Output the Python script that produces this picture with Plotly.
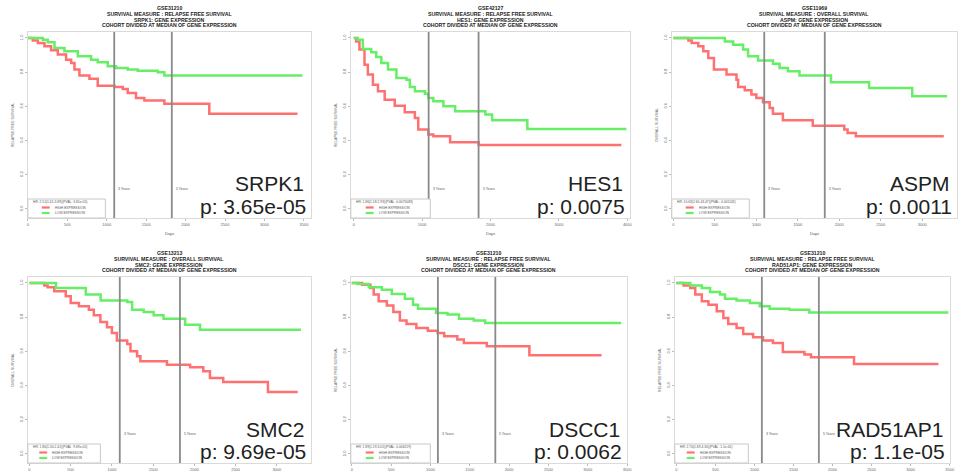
import plotly.graph_objects as go
from plotly.subplots import make_subplots

W, H = 966, 474

# ---- panel metadata -------------------------------------------------------
genes = ["SRPK1", "HES1", "ASPM", "SMC2", "DSCC1", "RAD51AP1"]
datasets = ["GSE31210", "GSE42127", "GSE11969", "GSE13213", "GSE31210", "GSE31210"]
measures = ["RELAPSE FREE SURVIVAL", "RELAPSE FREE SURVIVAL", "OVERALL SURVIVAL",
            "OVERALL SURVIVAL", "RELAPSE FREE SURVIVAL", "RELAPSE FREE SURVIVAL"]
p_values = ["3.65e-05", "0.0075", "0.0011", "9.69e-05", "0.0062", "1.1e-05"]
hr_labels = ["HR: 2.51(1.61-3.89)(PVAL: 3.65e-05)",
             "HR: 1.86(1.18-2.93)(PVAL: 0.0075083)",
             "HR: 10.63(2.60-43.47)(PVAL: 0.001143)",
             "HR: 1.80(1.34-2.41)(PVAL: 9.69e-05)",
             "HR: 1.89(1.19-3.01)(PVAL: 0.006219)",
             "HR: 2.70(1.69-4.30)(PVAL: 1.1e-05)"]
x_ticks = [list(range(0, 3501, 500)), list(range(0, 4001, 1000)), list(range(0, 3001, 500)),
           list(range(0, 3001, 500)), list(range(0, 3501, 500)), list(range(0, 3501, 500))]
y_ticks = [0.0, 0.2, 0.4, 0.6, 0.8, 1.0]
y_tick_text = ["0.0", "0.2", "0.4", "0.6", "0.8", "1.0"]
year_marks = [1095, 1825]
year_labels = ["3 Years", "5 Years"]

# ---- Kaplan-Meier step data (days, survival fraction) ---------------------
srpk1_high_t = [0, 63, 127, 211, 295, 380, 485, 549, 591, 654, 781, 886, 1097, 1203, 1266, 1371, 1477, 1730, 2300, 3418]
srpk1_high_s = [1.0, 0.986, 0.970, 0.951, 0.928, 0.903, 0.873, 0.854, 0.815, 0.780, 0.762, 0.721, 0.713, 0.702, 0.678, 0.649, 0.635, 0.616, 0.557, 0.557]
srpk1_low_t = [0, 190, 253, 338, 464, 633, 802, 886, 1013, 1118, 1266, 1393, 1646, 1730, 3481]
srpk1_low_s = [1.0, 0.990, 0.975, 0.942, 0.922, 0.893, 0.873, 0.858, 0.834, 0.825, 0.815, 0.809, 0.799, 0.780, 0.780]

hes1_high_t = [0, 34, 83, 157, 206, 280, 354, 452, 599, 746, 894, 943, 1090, 1164, 1409, 1827, 3913]
hes1_high_s = [1.0, 0.980, 0.932, 0.844, 0.786, 0.727, 0.688, 0.639, 0.604, 0.565, 0.532, 0.464, 0.435, 0.425, 0.390, 0.374, 0.374]
hes1_low_t = [0, 59, 133, 255, 329, 403, 501, 624, 771, 820, 894, 1041, 1090, 1164, 1311, 1483, 1925, 2023, 2538, 3987]
hes1_low_s = [1.0, 0.990, 0.936, 0.916, 0.889, 0.854, 0.815, 0.766, 0.756, 0.713, 0.688, 0.674, 0.649, 0.630, 0.600, 0.571, 0.552, 0.519, 0.468, 0.468]

aspm_high_t = [0, 180, 220, 300, 360, 420, 488, 640, 760, 780, 860, 940, 1000, 1080, 1160, 1200, 1320, 1680, 2060, 2100, 2200, 3260]
aspm_high_s = [1.0, 0.985, 0.971, 0.951, 0.922, 0.883, 0.815, 0.786, 0.756, 0.713, 0.694, 0.669, 0.649, 0.624, 0.590, 0.557, 0.519, 0.487, 0.464, 0.444, 0.425, 0.425]
aspm_low_t = [0, 620, 720, 840, 900, 1020, 1200, 1280, 1380, 1520, 1900, 2360, 2880, 3300]
aspm_low_s = [1.0, 0.980, 0.960, 0.932, 0.893, 0.869, 0.850, 0.825, 0.805, 0.780, 0.741, 0.708, 0.659, 0.659]

smc2_high_t = [0, 180, 220, 300, 440, 500, 600, 720, 780, 860, 940, 1000, 1060, 1185, 1225, 1305, 1345, 1667, 1948, 2108, 2189, 2350, 2892, 3253]
smc2_high_s = [1.0, 0.985, 0.975, 0.951, 0.922, 0.883, 0.864, 0.844, 0.811, 0.772, 0.741, 0.708, 0.663, 0.643, 0.600, 0.571, 0.542, 0.522, 0.507, 0.483, 0.444, 0.421, 0.363, 0.363]
smc2_low_t = [0, 321, 683, 863, 1185, 1245, 1385, 1506, 1626, 1888, 2068, 3293]
smc2_low_s = [1.0, 0.971, 0.932, 0.897, 0.889, 0.844, 0.830, 0.811, 0.791, 0.756, 0.727, 0.727]

dscc1_high_t = [0, 133, 237, 279, 342, 446, 529, 612, 696, 821, 967, 1092, 1175, 1342, 1425, 1717, 2258, 3175]
dscc1_high_s = [1.0, 0.990, 0.971, 0.932, 0.893, 0.869, 0.830, 0.780, 0.760, 0.737, 0.721, 0.708, 0.688, 0.669, 0.649, 0.630, 0.577, 0.577]
dscc1_low_t = [0, 71, 217, 383, 508, 675, 779, 842, 1071, 1217, 1363, 1550, 1696, 3425]
dscc1_low_s = [1.0, 0.994, 0.975, 0.961, 0.936, 0.908, 0.873, 0.850, 0.825, 0.815, 0.791, 0.780, 0.766, 0.766]

rad51ap1_high_t = [0, 93, 178, 242, 326, 411, 517, 602, 665, 771, 856, 983, 1110, 1237, 1364, 1640, 1724, 2275, 3356]
rad51ap1_high_s = [1.0, 0.986, 0.971, 0.932, 0.893, 0.873, 0.834, 0.795, 0.760, 0.737, 0.702, 0.682, 0.663, 0.649, 0.596, 0.581, 0.565, 0.526, 0.526]
rad51ap1_low_t = [0, 178, 326, 432, 559, 623, 771, 941, 1068, 1195, 1449, 1703, 3483]
rad51ap1_low_s = [1.0, 0.986, 0.971, 0.947, 0.932, 0.908, 0.897, 0.883, 0.864, 0.850, 0.844, 0.828, 0.828]

curves = [
    ((srpk1_high_t, srpk1_high_s), (srpk1_low_t, srpk1_low_s)),
    ((hes1_high_t, hes1_high_s), (hes1_low_t, hes1_low_s)),
    ((aspm_high_t, aspm_high_s), (aspm_low_t, aspm_low_s)),
    ((smc2_high_t, smc2_high_s), (smc2_low_t, smc2_low_s)),
    ((dscc1_high_t, dscc1_high_s), (dscc1_low_t, dscc1_low_s)),
    ((rad51ap1_high_t, rad51ap1_high_s), (rad51ap1_low_t, rad51ap1_low_s)),
]

# ---- layout geometry (pixels) ---------------------------------------------
panel_x = [(27, 312), (352, 633), (675, 962), (27, 312), (352, 630), (678, 955)]
row_top = [32, 277]
row_h = 186
x_ranges = [(0, 3590), (-43, 4040), (-20, 3420), (-20, 3415), (-12, 3500), (-20, 3505)]
y_range = (-0.053, 1.035)
legend_w = [78, 80, 78, 73, 80, 74]

RED = "#ff7070"
GREEN = "#66ee66"
FONT = "Liberation Sans, Arial, sans-serif"


def px(x):
    return x / W


def py(y):
    return 1 - y / H


fig = make_subplots(rows=2, cols=3)
annotations = []
shapes = []


def note(x, y, text, size, xanchor="center", yanchor="middle", angle=0, color="#333", bold=False):
    annotations.append(dict(
        x=px(x), y=py(y), xref="paper", yref="paper", text=f"<b>{text}</b>" if bold else text,
        showarrow=False, xanchor=xanchor, yanchor=yanchor, textangle=angle,
        font=dict(family=FONT, size=size, color=color)))


for i in range(6):
    r, c = divmod(i, 3)
    x0, x1 = panel_x[i]
    top = row_top[r]
    bot = top + row_h
    axn = "" if i == 0 else str(i + 1)
    (ht, hs), (lt, ls) = curves[i]

    fig.add_trace(go.Scatter(x=ht, y=hs, mode="lines", line=dict(color=RED, width=2.5, shape="hv"),
                             showlegend=False), row=r + 1, col=c + 1)
    fig.add_trace(go.Scatter(x=lt, y=ls, mode="lines", line=dict(color=GREEN, width=2.5, shape="hv"),
                             showlegend=False), row=r + 1, col=c + 1)

    fig.update_layout({
        f"xaxis{axn}": dict(domain=[px(x0), px(x1)], range=list(x_ranges[i]),
                            tickvals=x_ticks[i], ticktext=[str(v) for v in x_ticks[i]],
                            tickfont=dict(size=4, color="#666", family=FONT),
                            ticks="outside", ticklen=2, tickcolor="#bbb",
                            showgrid=False, zeroline=False, showline=True, mirror=True,
                            linecolor="#dadada", linewidth=1),
        f"yaxis{axn}": dict(domain=[py(bot), py(top)], range=list(y_range),
                            tickvals=y_ticks, ticktext=y_tick_text, tickangle=-90,
                            tickfont=dict(size=4, color="#666", family=FONT),
                            ticks="outside", ticklen=2, tickcolor="#bbb",
                            showgrid=False, zeroline=False, showline=True, mirror=True,
                            linecolor="#dadada", linewidth=1),
    })

    # 3- and 5-year reference lines with labels
    for t, lab in zip(year_marks, year_labels):
        shapes.append(dict(type="line", xref=f"x{axn}", yref=f"y{axn} domain",
                           x0=t, x1=t, y0=0, y1=1, line=dict(color="#8a8a8a", width=1.8)))
        annotations.append(dict(x=t, y=0.135, xref=f"x{axn}", yref=f"y{axn} domain",
                                text=lab, showarrow=False, xanchor="left", xshift=2,
                                font=dict(family=FONT, size=3.5, color="#555")))

    # titles
    cx = (x0 + x1) / 2
    title_lines = [datasets[i], f"SURVIVAL MEASURE : {measures[i]}",
                   f"{genes[i]}: GENE EXPRESSION", "COHORT DIVIDED AT MEDIAN OF GENE EXPRESSION"]
    for k, line in enumerate(title_lines):
        note(cx, top - 24 + k * 5.8, line, 5.2, color="#222", bold=True)

    # axis titles
    note(x0 - 15, (top + bot) / 2, measures[i], 3.5, angle=-90, color="#555")
    if r == 0:
        note(cx, bot + 15, "Days", 4, color="#555")

    # legend box
    lw = legend_w[i]
    lx0, lx1 = x0, x0 + lw
    ly0 = top + 167
    shapes.append(dict(type="rect", xref="paper", yref="paper", x0=px(lx0), x1=px(lx1),
                       y0=py(bot), y1=py(ly0), line=dict(color="#c8c8c8", width=1),
                       fillcolor="white", layer="above"))
    note(lx0 + 3, ly0 + 3, hr_labels[i], 3.3, xanchor="left", color="#555")
    lc = (lx0 + lx1) / 2
    for k, (col, lab) in enumerate([(RED, "HIGH EXPRESSION"), (GREEN, "LOW EXPRESSION")]):
        yy = ly0 + 8.5 + k * 5.5
        shapes.append(dict(type="line", xref="paper", yref="paper", x0=px(lc - 25), x1=px(lc - 17),
                           y0=py(yy), y1=py(yy), line=dict(color=col, width=2.2), layer="above"))
        note(lc - 14, yy, lab, 3.3, xanchor="left", color="#555")

    # gene name and p-value
    note(x1 - 5, top + 152, genes[i], 21, xanchor="right", color="#222")
    note(x1 - 3, top + 174, f"p: {p_values[i]}", 21, xanchor="right", color="#222")

fig.update_layout(width=W, height=H, margin=dict(l=0, r=0, t=0, b=0),
                  paper_bgcolor="white", plot_bgcolor="white",
                  annotations=annotations, shapes=shapes, showlegend=False)

fig.write_html("out.html")
